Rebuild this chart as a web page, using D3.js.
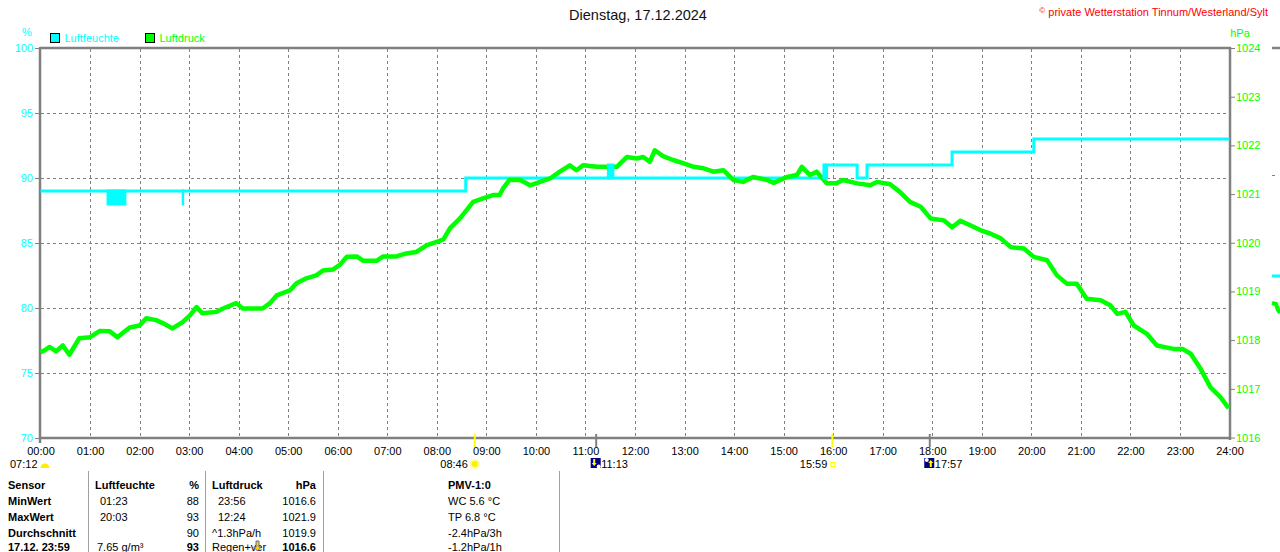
<!DOCTYPE html>
<html><head><meta charset="utf-8">
<script src="https://cdn.jsdelivr.net/npm/d3@7/dist/d3.min.js"></script>
<style>
html,body{margin:0;padding:0;background:#fff;overflow:hidden;}
svg{display:block;font-family:"Liberation Sans",Arial,sans-serif;}
</style></head><body>
<svg id="c" width="1280" height="552"></svg>
<script>
// ---------- DATA ----------
const title = "Dienstag, 17.12.2024";
const copyright = "private Wetterstation Tinnum/Westerland/Sylt";
const hourLabels = ["00:00","01:00","02:00","03:00","04:00","05:00","06:00","07:00","08:00","09:00","10:00","11:00","12:00",
  "13:00","14:00","15:00","16:00","17:00","18:00","19:00","20:00","21:00","22:00","23:00","24:00"];
const humTicks = [70,75,80,85,90,95,100];
const pressTicks = [1016,1017,1018,1019,1020,1021,1022,1023,1024];

// Luftfeuchte (%), step series
const humTimes  = ["00:00","08:35","15:52","16:29","16:41","18:24","20:03","24:00"];
const humValues = [89,90,91,90,91,92,93,93];
// short intervals where the humidity reading flickers between two values
const humFlickerStart = ["01:20","02:51","11:26","15:47"];
const humFlickerEnd   = ["01:44","02:54","11:35","15:52"];
const humFlickerLow   = [88,88,90,90];
const humFlickerHigh  = [89,89,91,91];

// Luftdruck (hPa)
const pressTimes = ["00:00","00:06","00:11","00:19","00:27","00:35","00:47","01:00","01:12","01:24","01:33","01:48",
  "02:00","02:08","02:20","02:28","02:40","02:52","03:01","03:09","03:16","03:33","03:41","03:57","04:05","04:29",
  "04:38","04:46","05:02","05:10","05:22","05:34","05:42","05:54","06:02","06:11","06:23","06:31","06:47","06:55",
  "07:11","07:23","07:35","07:48","08:00","08:08","08:16","08:28","08:36","08:44","08:56","09:08","09:16","09:20",
  "09:28","09:41","09:53","10:05","10:17","10:29","10:41","10:49","10:57","11:14","11:26","11:38","11:50","12:02",
  "12:10","12:18","12:24","12:34","12:46","12:59","13:11","13:23","13:35","13:47","13:59","14:11","14:23","14:40",
  "14:48","15:04","15:16","15:22","15:32","15:40","15:52","16:04","16:12","16:29","16:45","16:53","17:09","17:21",
  "17:33","17:46","17:58","18:14","18:24","18:34","18:46","18:58","19:10","19:23","19:35","19:51","20:03","20:19",
  "20:31","20:43","20:55","21:07","21:24","21:36","21:44","21:54","22:04","22:20","22:32","22:52","23:03","23:13",
  "23:25","23:37","23:49","23:59"];
const pressValues = [1017.75,1017.80,1017.86,1017.77,1017.89,1017.70,1018.04,1018.06,1018.19,1018.18,1018.06,1018.26,
  1018.30,1018.45,1018.41,1018.35,1018.24,1018.37,1018.51,1018.68,1018.55,1018.58,1018.65,1018.76,1018.65,1018.65,
  1018.76,1018.92,1019.02,1019.17,1019.27,1019.33,1019.43,1019.45,1019.54,1019.71,1019.72,1019.63,1019.63,1019.72,
  1019.72,1019.78,1019.81,1019.95,1020.02,1020.07,1020.30,1020.50,1020.67,1020.84,1020.91,1020.98,1020.98,1021.11,
  1021.29,1021.29,1021.18,1021.25,1021.32,1021.46,1021.59,1021.49,1021.59,1021.56,1021.56,1021.56,1021.76,1021.73,
  1021.76,1021.66,1021.90,1021.78,1021.70,1021.63,1021.56,1021.53,1021.46,1021.49,1021.29,1021.25,1021.35,1021.29,
  1021.23,1021.35,1021.39,1021.56,1021.39,1021.46,1021.22,1021.22,1021.29,1021.22,1021.18,1021.25,1021.20,1021.04,
  1020.84,1020.74,1020.50,1020.46,1020.32,1020.45,1020.36,1020.26,1020.19,1020.09,1019.91,1019.88,1019.71,1019.64,
  1019.33,1019.16,1019.16,1018.85,1018.82,1018.71,1018.54,1018.58,1018.30,1018.13,1017.89,1017.82,1017.82,1017.72,
  1017.41,1017.03,1016.83,1016.60];

// sun / moon events
const eventTimes = ["08:46","11:13","15:59","17:57"];
const eventKinds = ["sunrise","moonset","sunset","moonrise"];
const dawnLabel = "07:12";

// table
const tableRowLabels = ["Sensor","MinWert","MaxWert","Durchschnitt","17.12. 23:59"];
const humColTimes  = ["Luftfeuchte","01:23","20:03","","7.65 g/m³"];
const humColValues = ["%","88","93","90","93"];
const pressColTimes  = ["Luftdruck","23:56","12:24","^1.3hPa/h","Regen+ver"];
const pressColValues = ["hPa","1016.6","1021.9","1019.9","1016.6"];
const pmvCol = ["PMV-1:0","WC 5.6 °C","TP 6.8 °C","-2.4hPa/3h","-1.2hPa/1h"];

// ---------- DRAWING ----------
const CYAN = "#00ffff", GREEN = "#00ff00", GREY = "#808080";
const svg = d3.select("#c");
const toMin = s => { const [h, m] = s.split(":").map(Number); return h * 60 + m; };

const x  = d3.scaleLinear().domain([0, 1440]).range([40.5, 1229.5]);
const yH = d3.scaleLinear().domain([70, 100]).range([438, 48]);
const yP = d3.scaleLinear().domain([1016, 1024]).range([437.5, 48]);

// title & copyright
svg.append("text").attr("x", 638).attr("y", 20).attr("text-anchor", "middle")
  .attr("font-size", 14.5).attr("fill", "#111").text(title);
const cp = svg.append("text").attr("x", 1268).attr("y", 16).attr("text-anchor", "end")
  .attr("font-size", 11).attr("fill", "#ff0000");
cp.append("tspan").attr("font-size", 8).attr("dy", -3).text("©");
cp.append("tspan").attr("dy", 3).text(" " + copyright);

// legend
const legend = [["Luftfeuchte", CYAN, 50.5], ["Luftdruck", GREEN, 145.5]];
legend.forEach(([t, c, lx]) => {
  svg.append("rect").attr("x", lx).attr("y", 33.5).attr("width", 9).attr("height", 9)
    .attr("fill", c).attr("stroke", "#000");
  svg.append("text").attr("x", lx + 14).attr("y", 42).attr("font-size", 11).attr("fill", c).text(t);
});
svg.append("text").attr("x", 27).attr("y", 36).attr("text-anchor", "middle").attr("font-size", 11).attr("fill", CYAN).text("%");
svg.append("text").attr("x", 1240).attr("y", 37).attr("text-anchor", "middle").attr("font-size", 11).attr("fill", GREEN).text("hPa");

// grid
const grid = svg.append("g").attr("stroke", GREY).attr("stroke-width", 1).attr("stroke-dasharray", "3,3").attr("fill", "none");
hourLabels.slice(1, -1).forEach(h => {
  const xx = Math.round(x(toMin(h))) + 0.5;
  grid.append("line").attr("x1", xx).attr("x2", xx).attr("y1", 49).attr("y2", 437);
});
humTicks.slice(1, -1).forEach(v => {
  const yy = Math.round(yH(v)) + 0.5;
  grid.append("line").attr("x1", 41).attr("x2", 1229).attr("y1", yy).attr("y2", yy);
});

// left axis
const axL = svg.append("g").attr("transform", "translate(40,0)")
  .call(d3.axisLeft(yH).tickValues(humTicks).tickSize(5).tickPadding(2).tickFormat(d3.format("d")));
axL.select(".domain").remove();
axL.selectAll("line").attr("stroke", GREY);
axL.selectAll("text").attr("fill", CYAN).attr("font-size", 11).attr("font-family", "Liberation Sans, Arial, sans-serif");

// right axis
const axR = svg.append("g").attr("transform", "translate(1230,0)")
  .call(d3.axisRight(yP).tickValues(pressTicks).tickSize(5).tickPadding(1).tickFormat(d3.format("d")));
axR.select(".domain").remove();
axR.selectAll("line").attr("stroke", GREY);
axR.selectAll("text").attr("fill", GREEN).attr("font-size", 11).attr("font-family", "Liberation Sans, Arial, sans-serif");

// bottom axis labels
const axB = svg.append("g").attr("transform", "translate(0,438)")
  .call(d3.axisBottom(x).tickValues(hourLabels.map(toMin)).tickSize(0).tickPadding(9)
    .tickFormat((d, i) => hourLabels[i]));
axB.select(".domain").remove();
axB.selectAll("text").attr("fill", "#000").attr("font-size", 11).attr("font-family", "Liberation Sans, Arial, sans-serif");

// frame
const frame = svg.append("g").attr("stroke", GREY).attr("stroke-width", 2.5);
frame.append("line").attr("x1", 40).attr("x2", 1231).attr("y1", 48).attr("y2", 48);
frame.append("line").attr("x1", 40).attr("x2", 1231).attr("y1", 438).attr("y2", 438);
frame.append("line").attr("x1", 40).attr("x2", 40).attr("y1", 47).attr("y2", 443);
frame.append("line").attr("x1", 1230).attr("x2", 1230).attr("y1", 47).attr("y2", 440);

// humidity step line
const humData = humTimes.map((t, i) => ({ t: toMin(t), v: humValues[i] }));
svg.append("path").datum(humData)
  .attr("d", d3.line().x(d => x(d.t)).y(d => yH(d.v)).curve(d3.curveStepAfter))
  .attr("fill", "none").attr("stroke", CYAN).attr("stroke-width", 3);

// pressure line
const pressData = pressTimes.map((t, i) => ({ t: toMin(t), v: pressValues[i] }));
svg.append("path").datum(pressData)
  .attr("d", d3.line().x(d => x(d.t)).y(d => yP(d.v)))
  .attr("fill", "none").attr("stroke", GREEN).attr("stroke-width", 4.5).attr("stroke-linejoin", "round");

// humidity flicker blocks
humFlickerStart.forEach((s, i) => {
  const x0 = x(toMin(s)), x1 = x(toMin(humFlickerEnd[i]));
  svg.append("rect").attr("x", x0).attr("width", Math.max(1.5, x1 - x0))
    .attr("y", yH(humFlickerHigh[i]) - 1.5)
    .attr("height", yH(humFlickerLow[i]) - yH(humFlickerHigh[i]) + 3)
    .attr("fill", CYAN);
});

// event ticks and labels
const ev = svg.append("g");
eventTimes.forEach((t, i) => {
  const ex = x(toMin(t));
  const kind = eventKinds[i];
  const sunny = kind === "sunrise" || kind === "sunset";
  ev.append("line").attr("x1", ex).attr("x2", ex).attr("y1", 434).attr("y2", 447)
    .attr("stroke", sunny ? "#ffff00" : GREY).attr("stroke-width", 2);
  if (kind === "sunrise") {
    ev.append("text").attr("x", ex - 7).attr("y", 468).attr("text-anchor", "end").attr("font-size", 11).text(t);
    ev.append("circle").attr("cx", ex).attr("cy", 464).attr("r", 5).attr("fill", "#ffff99");
    ev.append("circle").attr("cx", ex).attr("cy", 464).attr("r", 3).attr("fill", "#ffee00");
  } else if (kind === "sunset") {
    ev.append("text").attr("x", ex - 5).attr("y", 468).attr("text-anchor", "end").attr("font-size", 11).text(t);
    ev.append("rect").attr("x", ex - 1.5).attr("y", 462.5).attr("width", 4).attr("height", 4)
      .attr("fill", "none").attr("stroke", "#ffff00");
  } else {
    ev.append("rect").attr("x", ex - 5.5).attr("y", 458).attr("width", 10).attr("height", 10).attr("fill", "#000080");
    if (kind === "moonset") {
      ev.append("path").attr("d", `M${ex - 3},459 v4 h-1.5 l2.5,3 l2.5,-3 h-1.5 v-4z`).attr("fill", "#ffff00");
      ev.append("circle").attr("cx", ex + 2.5).attr("cy", 466.5).attr("r", 2).attr("fill", "#fff");
      ev.append("text").attr("x", ex + 5).attr("y", 468).attr("font-size", 11).text(t);
    } else {
      ev.append("path").attr("d", `M${ex},467 v-4 h-1.5 l2.5,-3 l2.5,3 h-1.5 v4z`).attr("fill", "#ffff00");
      ev.append("circle").attr("cx", ex - 3).attr("cy", 460).attr("r", 2).attr("fill", "#fff");
      ev.append("text").attr("x", ex + 5).attr("y", 468).attr("font-size", 11).text(t);
    }
  }
});
// dawn label at left
svg.append("text").attr("x", 10).attr("y", 468).attr("font-size", 11).text(dawnLabel);
svg.append("path").attr("d", "M40.5,468 a4.5,4.5 0 0 1 9,0 z").attr("fill", "#ffee00");

// table separators
[88.5, 205.5, 323.5, 559.5].forEach(sx => {
  svg.append("line").attr("x1", sx).attr("x2", sx).attr("y1", 471).attr("y2", 552)
    .attr("stroke", "#a0a0a0").attr("stroke-width", 1);
});
const rowY = [489, 505, 521, 537, 551];
const tb = svg.append("g").attr("font-size", 11).attr("fill", "#000");
tableRowLabels.forEach((t, i) => tb.append("text").attr("x", 8).attr("y", rowY[i]).attr("font-weight", "bold").text(t));
humColTimes.forEach((t, i) => tb.append("text").attr("x", i === 0 ? 95 : (i === 4 ? 97 : 100)).attr("y", rowY[i])
  .attr("font-weight", i === 0 ? "bold" : "normal").text(t));
humColValues.forEach((t, i) => tb.append("text").attr("x", 199).attr("y", rowY[i]).attr("text-anchor", "end")
  .attr("font-weight", (i === 0 || i === 4) ? "bold" : "normal").text(t));
pressColTimes.forEach((t, i) => {
  tb.append("text").attr("x", (i === 1 || i === 2) ? 218 : 212).attr("y", rowY[i])
    .attr("font-weight", i === 0 ? "bold" : "normal").text(t);
});
pressColValues.forEach((t, i) => tb.append("text").attr("x", 316).attr("y", rowY[i]).attr("text-anchor", "end")
  .attr("font-weight", (i === 0 || i === 4) ? "bold" : "normal").text(t));
// trend icon
svg.append("path").attr("d", "M256,541 v6 h-2.5 l4,4 l4,-4 h-2.5 v-6z").attr("fill", "#ffcc00").attr("stroke", "#3050c0").attr("stroke-width", 0.8);
pmvCol.forEach((t, i) => tb.append("text").attr("x", 448).attr("y", rowY[i])
  .attr("font-weight", i === 0 ? "bold" : "normal").text(t));

// edge of neighbouring chart at right border
const stub = svg.append("g");
stub.append("line").attr("x1", 1272).attr("x2", 1280).attr("y1", 48).attr("y2", 48).attr("stroke", GREY).attr("stroke-width", 2.5);
stub.append("line").attr("x1", 1272).attr("x2", 1280).attr("y1", 276).attr("y2", 276).attr("stroke", CYAN).attr("stroke-width", 3);
stub.append("path").attr("d", "M1272,303 L1276,304 L1278,310 L1280,313").attr("fill", "none").attr("stroke", GREEN).attr("stroke-width", 4);
stub.append("line").attr("x1", 1272).attr("x2", 1275).attr("y1", 175.5).attr("y2", 175.5).attr("stroke", GREY);
</script>
</body></html>
